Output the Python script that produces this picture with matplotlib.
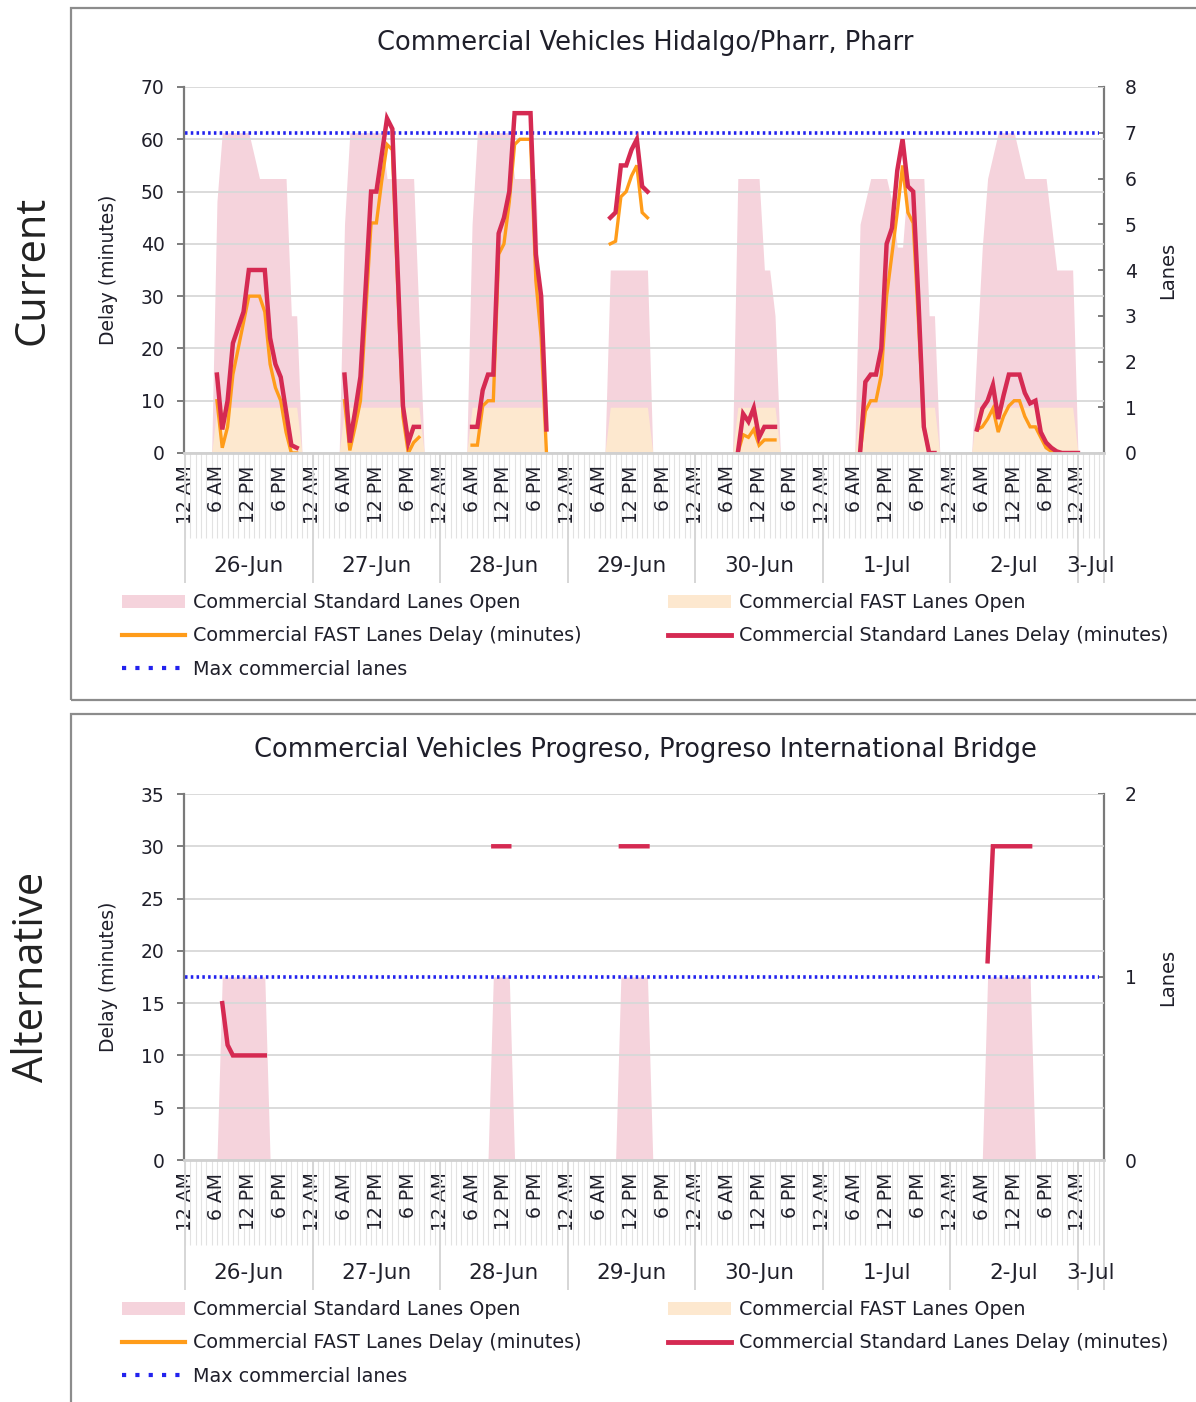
import numpy as np
import matplotlib
matplotlib.use("Agg")
import matplotlib.pyplot as plt
from matplotlib.patches import Rectangle, Patch
from matplotlib.lines import Line2D

plt.rcParams["font.family"] = ["DejaVu Sans"]

# hourly category axis: 26-Jun 12 AM ... 3-Jul
day_labels = ["26-Jun", "27-Jun", "28-Jun", "29-Jun", "30-Jun", "1-Jul", "2-Jul", "3-Jul"]
hour_labels = ["12 AM", "6 AM", "12 PM", "6 PM"]
n_hours = 173
hours = np.arange(n_hours)

# ---- Hidalgo/Pharr (current) ----  segments = (first hour, hourly values)
pharr_std_open_start = [5, 29, 53, 79, 103, 126, 148]
pharr_std_open = [
    [0, 5.5, 7, 7, 7, 7, 7, 7, 6.5, 6, 6, 6, 6, 6, 6, 3, 3, 0],
    [0, 5, 7, 7, 7, 7, 7, 7, 7, 6, 6, 6, 6, 6, 6, 3, 0],
    [0, 5, 7, 7, 7, 7, 7, 7, 7, 6, 6, 6, 6, 6, 2, 0],
    [0, 4, 4, 4, 4, 4, 4, 4, 4, 0],
    [0, 6, 6, 6, 6, 6, 4, 4, 3, 0],
    [0, 5, 5.5, 6, 6, 6, 6, 5.5, 4.5, 4.5, 6, 6, 6, 6, 3, 3, 0],
    [0, 2.3, 4.5, 6, 6.5, 7, 7, 7, 7, 6.5, 6, 6, 6, 6, 6, 5, 4, 4, 4, 4, 0],
]
pharr_fast_open_start = [5, 29, 53, 79, 103, 126, 148]
pharr_fast_open = [
    [0, 1, 1, 1, 1, 1, 1, 1, 1, 1, 1, 1, 1, 1, 1, 1, 1, 0],
    [0, 1, 1, 1, 1, 1, 1, 1, 1, 1, 1, 1, 1, 1, 1, 1, 0],
    [0, 1, 1, 1, 1, 1, 1, 1, 1, 1, 1, 1, 1, 1, 1, 0],
    [0, 1, 1, 1, 1, 1, 1, 1, 1, 0],
    [0, 1, 1, 1, 1, 1, 1, 1, 1, 0],
    [0, 1, 1, 1, 1, 1, 1, 1, 1, 1, 1, 1, 1, 1, 1, 1, 0],
    [0, 1, 1, 1, 1, 1, 1, 1, 1, 1, 1, 1, 1, 1, 1, 1, 1, 1, 1, 1, 0],
]
pharr_fast_delay_start = [6, 30, 54, 80, 104, 127, 149]
pharr_fast_delay = [
    [10, 1, 5, 15, 20, 25, 30, 30, 30, 27, 17, 12.5, 10, 4, 0, 0],
    [10, 0.5, 5, 10, 27, 44, 44, 52, 59, 58, 32, 7, 0, 2, 3],
    [1.5, 1.5, 9, 10, 10, 38, 40, 48, 59, 60, 60, 60, 33, 22, 0],
    [40, 40.5, 49, 50, 53, 55, 46, 45],
    [0, 3.5, 3, 4.5, 1.5, 2.5, 2.5, 2.5],
    [0, 8, 10, 10, 15, 30, 38, 46, 55, 46, 44, 25, 5, 0, 0],
    [4.5, 5, 6.5, 8.5, 4, 7, 9, 10, 10, 7, 5, 5, 3, 1, 0.3, 0, 0, 0, 0, 0],
]
pharr_std_delay_start = [6, 30, 54, 80, 104, 127, 149]
pharr_std_delay = [
    [15, 4.5, 10, 21, 24, 27, 35, 35, 35, 35, 22, 17, 14.5, 8, 1.5, 1],
    [15, 2, 8, 14.6, 32, 50, 50, 57, 64, 62, 35, 9, 2, 5, 5],
    [5, 5, 12, 15, 15, 42, 45, 50, 65, 65, 65, 65, 38, 30, 4.5],
    [45, 46, 55, 55, 58, 60, 51, 50],
    [0, 7.5, 6, 8.6, 3, 5, 5, 5],
    [0, 13.6, 15, 15, 20, 40, 43, 54, 60, 51, 50, 29, 5, 0, 0],
    [4.5, 8.5, 10, 13, 6.5, 11, 15, 15, 15, 11.5, 9.5, 10, 4, 2, 1, 0.3, 0, 0, 0, 0],
]
pharr_max_lanes = 7

# ---- Progreso (alternative) ----
progreso_std_open_start = [6, 57, 81, 150]
progreso_std_open = [
    [0, 1, 1, 1, 1, 1, 1, 1, 1, 1, 0],
    [0, 1, 1, 1, 1, 0],
    [0, 1, 1, 1, 1, 1, 1, 0],
    [0, 1, 1, 1, 1, 1, 1, 1, 1, 1, 0],
]
progreso_fast_open_start = []
progreso_fast_open = []
progreso_fast_delay_start = []
progreso_fast_delay = []
progreso_std_delay_start = [7, 58, 82, 151]
progreso_std_delay = [
    [15, 11, 10, 10, 10, 10, 10, 10, 10],
    [30, 30, 30, 30],
    [30, 30, 30, 30, 30, 30],
    [19, 30, 30, 30, 30, 30, 30, 30, 30],
]
progreso_max_lanes = 1

PINK = "#f5d3dc"
PEACH = "#fde8cf"
ORANGE = "#ff9c1a"
RED = "#d52a52"
BLUE = "#2222ee"
TXT = "#1f1f2a"

W, H = 1196, 1402
fig = plt.figure(figsize=(W / 100, H / 100), dpi=100)


def fx(px):
    return px / W


def fy(py):
    return 1 - py / H


def expand(starts, segs, fill):
    arr = np.full(n_hours, fill, dtype=float)
    for s, v in zip(starts, segs):
        arr[s:s + len(v)] = v
    return arr


def panel(top_px, title, side, frame_top, frame_bot, std_open, fast_open,
          fast_delay, std_delay, max_lanes, ymax, ystep, lmax):
    ax_h = 366
    ax = fig.add_axes([fx(184), fy(top_px + ax_h), fx(1104) - fx(184), ax_h / H])
    ax2 = ax.twinx()
    ax.set_zorder(ax2.get_zorder() + 1)
    ax.patch.set_visible(False)

    # lanes (right axis)
    ax2.fill_between(hours, 0, std_open, color=PINK, lw=0)
    ax2.fill_between(hours, 0, fast_open, color=PEACH, lw=0)
    ax2.plot(hours, [max_lanes] * n_hours, color=BLUE, lw=2.6, ls=(0, (0.7, 0.9)))
    ax2.set_ylim(0, lmax)
    ax2.set_yticks(range(0, lmax + 1))
    ax2.tick_params(axis="y", direction="in", length=4, width=1.2, color="#666666",
                    pad=15, labelsize=13.5, labelcolor=TXT)
    ax2.set_ylabel("Lanes", fontsize=14, color=TXT, rotation=90)
    ax2.yaxis.set_label_coords(1.059, 0.5)

    # delays (left axis)
    ax.plot(hours, fast_delay, color=ORANGE, lw=2.4, solid_joinstyle="miter")
    ax.plot(hours, std_delay, color=RED, lw=3.2, solid_joinstyle="miter")
    ax.set_ylim(0, ymax)
    ax.set_yticks(range(0, ymax + 1, ystep))
    ax.set_xlim(-0.2, 172.9)
    ax.yaxis.grid(True, color="#d8d8d8", lw=1.3)
    ax.set_axisbelow(True)
    ax.tick_params(axis="y", direction="out", length=5, width=1.2, color="#666666",
                   pad=9, labelsize=13.5, labelcolor=TXT)
    ax.set_ylabel("Delay (minutes)", fontsize=13.5, color=TXT)
    ax.yaxis.set_label_coords(-0.072, 0.5)

    for a in (ax, ax2):
        a.spines["top"].set_visible(False)
    ax.spines["right"].set_visible(False)
    ax2.spines["left"].set_visible(False)
    ax2.spines["bottom"].set_visible(False)
    ax.spines["left"].set_color("#7a7a7a")
    ax.spines["left"].set_linewidth(1.6)
    ax2.spines["right"].set_color("#7a7a7a")
    ax2.spines["right"].set_linewidth(1.6)
    ax.spines["bottom"].set_color("#d0d0d0")
    ax.spines["bottom"].set_linewidth(2)

    # multi-level category axis
    xt = list(range(0, 169, 6))
    ax.set_xticks(xt)
    ax.set_xticklabels([hour_labels[(t // 6) % 4] for t in xt], rotation=90,
                       fontsize=13.5, color=TXT)
    ax.tick_params(axis="x", length=0, pad=9)
    tr = ax.get_xaxis_transform()
    ax.vlines(hours, -0.232, 0, transform=tr, color="#e2e2e2", lw=0.8, clip_on=False, zorder=0)
    x_end = ax.get_xlim()[1]
    seps = [i * 24 for i in range(len(day_labels))] + [x_end]
    ax.vlines(seps, -0.355, 0, transform=tr, color="#d6d6d6", lw=1.4, clip_on=False)
    for i, d in enumerate(day_labels):
        c = (seps[i] + seps[i + 1]) / 2
        ax.text(c, -0.309, d, transform=tr, ha="center", va="center", fontsize=15.5, color=TXT)

    # frame, titles
    fig.patches.append(Rectangle((fx(71), fy(frame_bot)), 1.2, (frame_bot - frame_top) / H,
                                 transform=fig.transFigure, fill=False, ec="#8c8c8c", lw=1.6))
    fig.text(fx(645), fy(top_px - 44), title, ha="center", va="center", fontsize=18.5, color=TXT)
    fig.text(fx(32), fy(top_px + 183), side, rotation=90, ha="center", va="center",
             fontsize=30, color="#222222", family=["Open Sans", "DejaVu Sans"])

    # legend
    h_std = Patch(facecolor=PINK, edgecolor="none")
    h_fast = Patch(facecolor=PEACH, edgecolor="none")
    h_fd = Line2D([], [], color=ORANGE, lw=3)
    h_sd = Line2D([], [], color=RED, lw=3.5)
    h_max = Line2D([], [], color=BLUE, lw=3, ls=(0, (1, 2.2)))
    leg_top = top_px + ax_h + 140
    kw = dict(loc="upper left", frameon=False, fontsize=13.8, handlelength=3.3,
              handletextpad=0.4, labelspacing=0.75, borderpad=0, borderaxespad=0,
              labelcolor=TXT)
    fig.legend([h_std, h_fd, h_max],
               ["Commercial Standard Lanes Open", "Commercial FAST Lanes Delay (minutes)",
                "Max commercial lanes"],
               bbox_to_anchor=(fx(122), fy(leg_top)), **kw)
    fig.legend([h_fast, h_sd],
               ["Commercial FAST Lanes Open", "Commercial Standard Lanes Delay (minutes)"],
               bbox_to_anchor=(fx(668), fy(leg_top)), **kw)
    return ax


panel(87, "Commercial Vehicles Hidalgo/Pharr, Pharr", "Current", 8, 700,
      expand(pharr_std_open_start, pharr_std_open, 0),
      expand(pharr_fast_open_start, pharr_fast_open, 0),
      expand(pharr_fast_delay_start, pharr_fast_delay, np.nan),
      expand(pharr_std_delay_start, pharr_std_delay, np.nan),
      pharr_max_lanes, 70, 10, 8)

panel(794, "Commercial Vehicles Progreso, Progreso International Bridge", "Alternative", 714, 1420,
      expand(progreso_std_open_start, progreso_std_open, 0),
      expand(progreso_fast_open_start, progreso_fast_open, 0),
      expand(progreso_fast_delay_start, progreso_fast_delay, np.nan),
      expand(progreso_std_delay_start, progreso_std_delay, np.nan),
      progreso_max_lanes, 35, 5, 2)

fig.savefig("out.png", dpi=100)
